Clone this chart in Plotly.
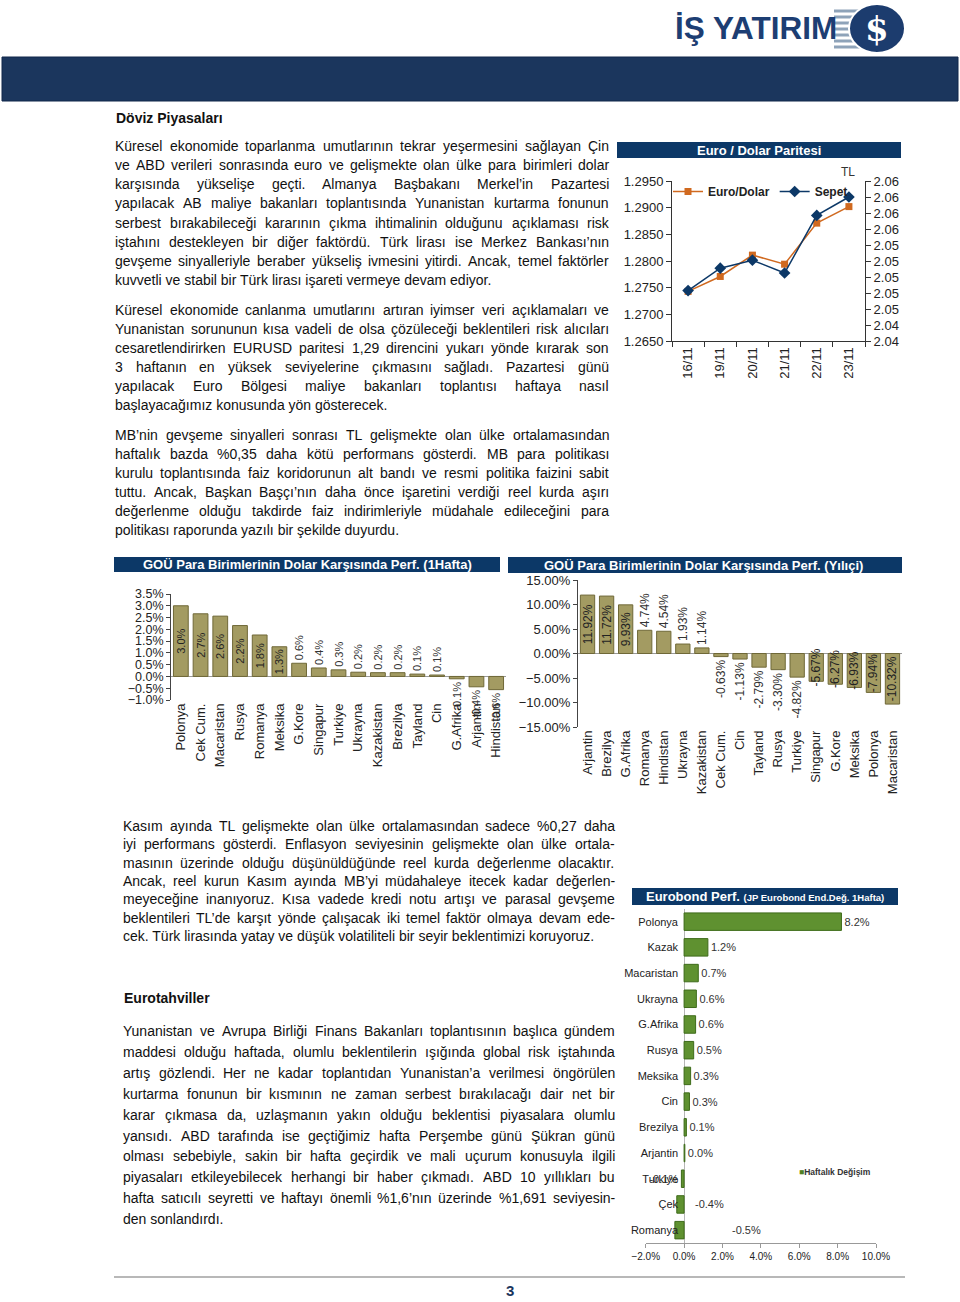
import plotly.graph_objects as go

# ---------------- DATA ----------------
eur_dates = ["16/11", "19/11", "20/11", "21/11", "22/11", "23/11"]
eur_usd = [1.2743, 1.2771, 1.2811, 1.2794, 1.2871, 1.2902]
sepet = [2.0483, 2.0511, 2.0521, 2.0505, 2.0577, 2.0600]

week_countries = ["Polonya", "Cek Cum.", "Macaristan", "Rusya", "Romanya", "Meksika", "G.Kore",
                  "Singapur", "Turkiye", "Ukrayna", "Kazakistan", "Brezilya", "Tayland", "Cin",
                  "G.Afrika", "Arjantin", "Hindistan"]
week_perf = [3.0, 2.66, 2.56, 2.16, 1.76, 1.26, 0.56, 0.36, 0.28, 0.18, 0.16, 0.16, 0.1, 0.06,
             -0.1, -0.44, -0.56]

ytd_countries = ["Arjantin", "Brezilya", "G.Afrika", "Romanya", "Hindistan", "Ukrayna", "Kazakistan",
                 "Cek Cum.", "Cin", "Tayland", "Rusya", "Turkiye", "Singapur", "G.Kore", "Meksika",
                 "Polonya", "Macaristan"]
ytd_perf = [11.92, 11.72, 9.93, 4.74, 4.54, 1.93, 1.14, -0.63, -1.13, -2.79, -3.30, -4.82, -5.67,
            -6.27, -6.93, -7.94, -10.32]

eb_countries = ["Polonya", "Kazak", "Macaristan", "Ukrayna", "G.Afrika", "Rusya", "Meksika", "Cin",
                "Brezilya", "Arjantin", "Turkiye", "Çek", "Romanya"]
eb_perf = [8.2, 1.24, 0.74, 0.64, 0.6, 0.5, 0.34, 0.28, 0.12, 0.04, -0.14, -0.38, -0.48]

p1 = ["Küresel ekonomide toparlanma umutlarının tekrar yeşermesini sağlayan Çin",
      "ve ABD verileri sonrasında euro ve gelişmekte olan ülke para birimleri dolar",
      "karşısında yükselişe geçti. Almanya Başbakanı Merkel’in Pazartesi",
      "yapılacak AB maliye bakanları toplantısında Yunanistan kurtarma fonunun",
      "serbest bırakabileceği kararının çıkma ihtimalinin olduğunu açıklaması risk",
      "iştahını destekleyen bir diğer faktördü. Türk lirası ise Merkez Bankası’nın",
      "gevşeme sinyalleriyle beraber yükseliş ivmesini yitirdi. Ancak, temel faktörler",
      "kuvvetli ve stabil bir Türk lirası işareti vermeye devam ediyor."]
p2 = ["Küresel ekonomide canlanma umutlarını artıran iyimser veri açıklamaları ve",
      "Yunanistan sorununun kısa vadeli de olsa çözüleceği beklentileri risk alıcıları",
      "cesaretlendirirken EURUSD paritesi 1,29 direncini yukarı yönde kırarak son",
      "3 haftanın en yüksek seviyelerine çıkmasını sağladı. Pazartesi günü",
      "yapılacak Euro Bölgesi maliye bakanları toplantısı haftaya nasıl",
      "başlayacağımız konusunda yön gösterecek."]
p3 = ["MB’nin gevşeme sinyalleri sonrası TL gelişmekte olan ülke ortalamasından",
      "haftalık bazda %0,35 daha kötü performans gösterdi. MB para politikası",
      "kurulu toplantısında faiz koridorunun alt bandı ve resmi politika faizini sabit",
      "tuttu. Ancak, Başkan Başçı’nın daha önce işaretini verdiği reel kurda aşırı",
      "değerlenme olduğu takdirde faiz indirimleriyle müdahale edileceğini para",
      "politikası raporunda yazılı bir şekilde duyurdu."]
p4 = ["Kasım ayında TL gelişmekte olan ülke ortalamasından sadece %0,27 daha",
      "iyi performans gösterdi. Enflasyon seviyesinin gelişmekte olan ülke ortala-",
      "masının üzerinde olduğu düşünüldüğünde reel kurda değerlenme olacaktır.",
      "Ancak, reel kurun Kasım ayında MB’yi müdahaleye itecek kadar değerlen-",
      "meyeceğine inanıyoruz. Kısa vadede kredi notu artışı ve parasal gevşeme",
      "beklentileri TL’de karşıt yönde çalışacak iki temel faktör olmaya devam ede-",
      "cek. Türk lirasında yatay ve düşük volatiliteli bir seyir beklentimizi koruyoruz."]
p5 = ["Yunanistan ve Avrupa Birliği Finans Bakanları toplantısının başlıca gündem",
      "maddesi olduğu haftada, olumlu beklentilerin ışığında global risk iştahında",
      "artış gözlendi. Her ne kadar toplantıdan Yunanistan’a verilmesi öngörülen",
      "kurtarma fonunun bir kısmının ne zaman serbest bırakılacağı dair net bir",
      "karar çıkmasa da, uzlaşmanın yakın olduğu beklentisi piyasalara olumlu",
      "yansıdı. ABD tarafında ise geçtiğimiz hafta Perşembe günü Şükran günü",
      "olması sebebiyle, sakin bir hafta geçirdik ve mali uçurum konusuyla ilgili",
      "piyasaları etkileyebilecek herhangi bir haber çıkmadı. ABD 10 yıllıkları bu",
      "hafta satıcılı seyretti ve haftayı önemli %1,6’nın üzerinde %1,691 seviyesin-",
      "den sonlandırdı."]

# ---------------- STYLE ----------------
W_PX, H_PX = 960, 1302
FONT = "Liberation Sans, Arial, sans-serif"
NAVY = "#0c3867"
ORANGE = "#d0691f"
OLIVE = "#a39b62"
GREEN = "#5f9130"
TXT = "#111111"


def fx(x):
    return x / W_PX


def fy(y):
    return 1 - y / H_PX


CW = {' ': 278, '!': 278, '%': 889, "'": 191, '’': 222, '(': 333, ')': 333, ',': 278, '-': 333,
      '.': 278, '/': 278, ':': 278, ';': 278,
      'A': 667, 'B': 667, 'C': 722, 'D': 722, 'E': 667, 'F': 611, 'G': 778, 'H': 722, 'I': 278,
      'J': 500, 'K': 667, 'L': 556, 'M': 833, 'N': 722, 'O': 778, 'P': 667, 'Q': 778, 'R': 722,
      'S': 667, 'T': 611, 'U': 722, 'V': 667, 'W': 944, 'X': 667, 'Y': 667, 'Z': 611,
      'a': 556, 'b': 556, 'c': 500, 'd': 556, 'e': 556, 'f': 278, 'g': 556, 'h': 556, 'i': 222,
      'j': 222, 'k': 500, 'l': 222, 'm': 833, 'n': 556, 'o': 556, 'p': 556, 'q': 556, 'r': 333,
      's': 500, 't': 278, 'u': 556, 'v': 500, 'w': 722, 'x': 500, 'y': 500, 'z': 500,
      'ı': 278, 'ğ': 556, 'ş': 500, 'ç': 500, 'ö': 556, 'ü': 556, 'Ç': 722, 'Ş': 667, 'Ö': 778,
      'Ü': 722, 'İ': 278, 'Ğ': 778}


def tw(s, size):
    return sum(CW.get(c, 556) for c in s) * size / 1000.0


anns = []
shapes = []


def text(x, y, s, size=14, color=TXT, anchor="left", bold=False, family=FONT):
    anns.append(dict(x=fx(x), y=fy(y), xref="paper", yref="paper", text=s, showarrow=False,
                     xanchor=anchor, yanchor="middle",
                     font=dict(size=size, color=color, family=family,
                               weight="bold" if bold else "normal")))


def para(lines, x0, x1, y0, dy, size=14):
    for i, line in enumerate(lines):
        y = y0 + i * dy
        words = line.split()
        if i < len(lines) - 1 and len(words) > 1:
            widths = [tw(w, size) for w in words]
            gap = (x1 - x0 - sum(widths)) / (len(words) - 1)
            x = x0
            for w, wd in zip(words, widths):
                text(x - 1, y, w, size)
                x += wd + gap
        else:
            text(x0 - 1, y, line, size)


def rect(x0, y0, x1, y1, fill, line=None, lw=0):
    shapes.append(dict(type="rect", xref="paper", yref="paper", x0=fx(x0), x1=fx(x1),
                       y0=fy(y1), y1=fy(y0), fillcolor=fill,
                       line=dict(color=line or fill, width=lw), layer="below"))


# ---------------- HEADER ----------------
for i in range(7):
    yy = 11 + i * 6
    shapes.append(dict(type="line", xref="paper", yref="paper", x0=fx(834), x1=fx(862),
                       y0=fy(yy), y1=fy(yy), line=dict(color="#8ea3b9", width=3)))
shapes.append(dict(type="circle", xref="paper", yref="paper", x0=fx(849), x1=fx(905),
                   y0=fy(53), y1=fy(4), fillcolor="#1c3c6e", line=dict(color="white", width=2)))
text(877, 29, "$", size=34, color="white", anchor="center", bold=True, family="DejaVu Serif, serif")
text(673, 28, "İŞ YATIRIM", size=31.5, color="#1d3e73", bold=True)
rect(2, 57, 958, 101, "#1b365d", "#11264a", 1)

# ---------------- TEXT ----------------
text(114, 118, "Döviz Piyasaları", size=14, bold=True)
para(p1, 114, 608, 146, 19.15)
para(p2, 114, 608, 310, 19.0)
para(p3, 114, 608, 435, 19.0)
para(p4, 122, 614, 826, 18.35)
text(122, 998, "Eurotahviller", size=14, bold=True)
para(p5, 122, 614, 1031, 20.9)

# footer
shapes.append(dict(type="line", xref="paper", yref="paper", x0=fx(114), x1=fx(905),
                   y0=fy(1277), y1=fy(1277), line=dict(color="#a0a0a0", width=1.5)))
text(510, 1290, "3", size=15, color="#1b365d", anchor="center", bold=True)

# ---------------- CHART TITLE BARS ----------------
rect(617, 142, 901, 158, NAVY)
text(759, 150, "Euro / Dolar Paritesi", size=13, color="white", anchor="center", bold=True)
rect(114, 557, 500, 572, NAVY)
text(307, 564.5, "GOÜ Para Birimlerinin Dolar Karşısında Perf. (1Hafta)", size=13,
     color="white", anchor="center", bold=True)
rect(508, 557, 902, 573, NAVY)
text(703, 565, "GOÜ Para Birimlerinin Dolar Karşısında Perf. (Yılıçi)", size=13,
     color="white", anchor="center", bold=True)
rect(632, 888, 898, 905, NAVY)
text(765, 896.5, "<b>Eurobond Perf.</b> <span style='font-size:9.5px'><b>(JP Eurobond End.Değ. 1Hafta)</b></span>",
     size=13, color="white", anchor="center")

# ---------------- TRACES ----------------
fig = go.Figure()
fig.add_trace(go.Scatter(x=eur_dates, y=eur_usd, name="Euro/Dolar", mode="lines+markers",
                         line=dict(color=ORANGE, width=1.5),
                         marker=dict(symbol="square", size=7, color=ORANGE),
                         xaxis="x", yaxis="y"))
fig.add_trace(go.Scatter(x=eur_dates, y=sepet, name="Sepet", mode="lines+markers",
                         line=dict(color=NAVY, width=1.5),
                         marker=dict(symbol="diamond", size=9, color=NAVY),
                         xaxis="x", yaxis="y2"))
week_pos = ["inside" if v >= 1.2 else "outside" for v in week_perf]
fig.add_trace(go.Bar(x=week_countries, y=week_perf, xaxis="x3", yaxis="y3", showlegend=False,
                     width=0.75, marker=dict(color=OLIVE, line=dict(color="#6f6837", width=1)),
                     texttemplate="%{y:.1f}%", textposition=week_pos, textangle=-90,
                     constraintext="none", cliponaxis=False,
                     insidetextanchor="middle",
                     insidetextfont=dict(size=11, color="#222", family=FONT),
                     outsidetextfont=dict(size=11, color="#333", family=FONT)))
ytd_pos = ["inside" if abs(v) >= 5 else "outside" for v in ytd_perf]
fig.add_trace(go.Bar(x=ytd_countries, y=ytd_perf, xaxis="x4", yaxis="y4", showlegend=False,
                     width=0.75, marker=dict(color=OLIVE, line=dict(color="#6f6837", width=1)),
                     texttemplate="%{y:.2f}%", textposition=ytd_pos, textangle=-90,
                     constraintext="none", cliponaxis=False,
                     insidetextanchor="middle",
                     insidetextfont=dict(size=12, color="#222", family=FONT),
                     outsidetextfont=dict(size=12, color="#333", family=FONT)))
eb_pos = ["outside" if v > -0.2 else "none" for v in eb_perf]
fig.add_trace(go.Bar(x=eb_perf, y=eb_countries, orientation="h", xaxis="x5", yaxis="y5",
                     showlegend=False, width=0.68,
                     marker=dict(color=GREEN, line=dict(color="#3e6b1a", width=1)),
                     texttemplate="%{x:.1f}%", textposition=eb_pos, cliponaxis=False,
                     constraintext="none",
                     outsidetextfont=dict(size=11, color="#333", family=FONT)))
# labels of the larger negative eurobond bars sit right of the zero line (as in the source)
for name, v in zip(eb_countries, eb_perf):
    if v <= -0.2:
        anns.append(dict(x=0, y=name, xref="x5", yref="y5", text=f"{v:.1f}%", showarrow=False,
                         xanchor="left", yanchor="middle",
                         xshift=9 if v > -0.42 else 46,
                         font=dict(size=11, color="#333", family=FONT)))
# Eurobond series key
text(797, 1172, "<span style='color:#4f7f22'>■</span>Haftalık Değişim", size=8.5, color="#333",
     bold=True)
# TL unit on right axis
text(848, 172, "TL", size=12, color="#333", anchor="center")

axis_common = dict(showgrid=False, zeroline=False, fixedrange=True, automargin=False,
                   tickfont=dict(size=13, color="#222", family=FONT))

fig.update_layout(
    template="none",
    width=W_PX, height=H_PX,
    margin=dict(l=0, r=0, t=0, b=0, pad=0, autoexpand=False),
    paper_bgcolor="white", plot_bgcolor="rgba(0,0,0,0)",
    font=dict(family=FONT, color=TXT),
    showlegend=True,
    legend=dict(orientation="h", x=fx(668), y=fy(177), xanchor="left", yanchor="top",
                font=dict(size=12, color="#222", family=FONT, weight="bold"),
                bgcolor="rgba(0,0,0,0)", itemwidth=30),
    xaxis=dict(axis_common, domain=[fx(672), fx(865)], anchor="y", type="category",
               range=[-0.5, 5.5], showline=True, linecolor="#333", ticks="outside",
               tickson="boundaries", ticklen=5, tickcolor="#333", tickangle=-90),
    yaxis=dict(axis_common, domain=[fy(341), fy(181)], anchor="x", range=[1.265, 1.295],
               tick0=1.265, dtick=0.005, tickformat=".4f", showline=True, linecolor="#333",
               ticks="outside", ticklen=5, tickcolor="#333"),
    yaxis2=dict(axis_common, overlaying="y", side="right", anchor="x", range=[2.042, 2.062],
                tick0=2.042, dtick=0.002, tickformat=".2f", showline=True, linecolor="#333",
                ticks="outside", ticklen=5, tickcolor="#333"),
    xaxis3=dict(axis_common, domain=[fx(171), fx(506)], anchor="y3", type="category",
                range=[-0.5, 16.5], tickangle=-90, ticks=""),
    yaxis3=dict(axis_common, domain=[fy(700), fy(594)], anchor="x3", range=[-1, 3.5],
                tick0=-1, dtick=0.5, tickformat=".1f", ticksuffix="%", showline=True,
                linecolor="#444", ticks="outside", ticklen=4, tickcolor="#444",
                zeroline=True, zerolinecolor="#999", zerolinewidth=1,
                tickfont=dict(size=12.5, color="#222", family=FONT)),
    xaxis4=dict(axis_common, domain=[fx(578), fx(902)], anchor="y4", type="category",
                range=[-0.5, 16.5], tickangle=-90, ticks=""),
    yaxis4=dict(axis_common, domain=[fy(727), fy(580)], anchor="x4", range=[-15, 15],
                tick0=-15, dtick=5, tickformat=".2f", ticksuffix="%", showline=True,
                linecolor="#444", ticks="outside", ticklen=4, tickcolor="#444",
                zeroline=True, zerolinecolor="#999", zerolinewidth=1),
    xaxis5=dict(axis_common, domain=[fx(645.7), fx(876)], anchor="y5", range=[-2, 10],
                tick0=-2, dtick=2, tickformat=".1f", ticksuffix="%", showline=True,
                linecolor="#999", ticks="outside", ticklen=4, tickcolor="#999",
                zeroline=True, zerolinecolor="#b5b5b5", zerolinewidth=1,
                tickfont=dict(size=10, color="#222", family=FONT)),
    yaxis5=dict(axis_common, domain=[fy(1243), fy(908.8)], anchor="free", position=fx(684),
                type="category", autorange="reversed", ticks="", showline=False,
                ticklabelstandoff=6, tickfont=dict(size=11, color="#222", family=FONT)),
    annotations=anns,
    shapes=shapes,
)

fig.write_html(
    "out.html",
    config={"displayModeBar": False, "staticPlot": True},
    post_script="document.body.style.margin='0px';document.body.style.padding='0px';"
                "document.documentElement.style.overflow='hidden';",
)
